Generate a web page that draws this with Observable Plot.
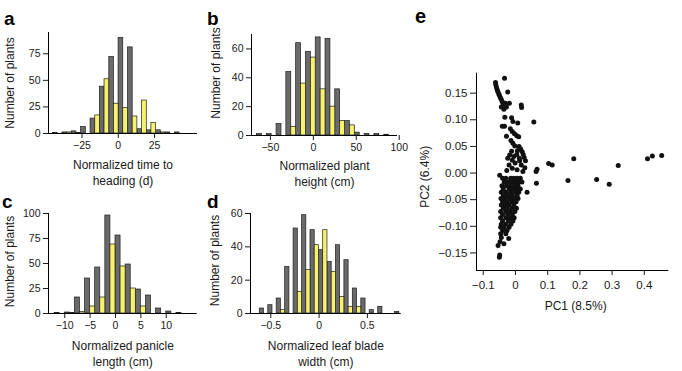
<!DOCTYPE html>
<html><head><meta charset="utf-8">
<script src="https://cdn.jsdelivr.net/npm/d3@7"></script>
<script src="https://cdn.jsdelivr.net/npm/@observablehq/plot@0.6"></script>
<style>
body{margin:0;background:#fff;}
#root{position:relative;width:682px;height:371px;overflow:hidden;font-family:"Liberation Sans",Arial,sans-serif;background:#fff;}
.panel{position:absolute;}
.letter{position:absolute;font-weight:bold;font-size:19px;line-height:1;color:#000;font-family:"Liberation Sans",Arial,sans-serif;}
</style></head><body><div id="root"></div>
<script>
// ---- Panel a: time to heading (d)
const aEdges = [-45, -38.5, -32.1, -25.6, -19.1, -12.7, -6.2, 0.2, 6.7, 13.2, 19.6, 26.1, 32.6, 39.0];
const aGrey = [0.5, 1, 2, 6, 14, 44, 72, 90, 81, 4, 3, 3, 1, 1];
const aYellow = [0, 1, 0.5, 0, 17, 51, 28, 24, 16, 31, 10, 1, 0, 0];
const aBinWidth = 6.45;
const aXTicks = [-25, 0, 25];
const aYTicks = [0, 25, 50, 75];

// ---- Panel b: plant height (cm)
const bEdges = [-65.6, -54.2, -42.8, -31.4, -20.0, -8.6, 2.8, 14.2, 25.5, 36.9, 48.3, 59.7, 71.1, 82.5];
const bGrey = [1, 1, 8, 44, 64, 58, 68, 67, 32, 10, 2, 1, 1, 0.5];
const bYellow = [0, 0, 0, 6, 36, 54, 32, 20, 10, 7, 0, 0, 0, 0];
const bBinWidth = 11.39;
const bXTicks = [-50, 0, 50, 100];
const bYTicks = [0, 20, 40, 60];

// ---- Panel c: panicle length (cm)
const cEdges = [-12, -10, -8, -6, -4, -2, 0, 2, 4, 6, 8, 10, 12];
const cGrey = [0.5, 1, 16, 35, 46, 98, 78, 49, 24, 18, 5, 2, 0.5];
const cYellow = [0, 0.5, 1.5, 7, 16, 69, 47, 25, 7, 0, 0, 0, 0];
const cBinWidth = 2;
const cXTicks = [-10, -5, 0, 5, 10];
const cYTicks = [0, 25, 50, 75, 100];

// ---- Panel d: leaf blade width (cm)
const dEdges = [-0.614, -0.526, -0.439, -0.351, -0.264, -0.176, -0.089, -0.001, 0.087, 0.174, 0.262, 0.349, 0.437, 0.524, 0.612, 0.699, 0.787];
const dGrey = [3, 5, 9, 28, 51, 59, 50, 38, 31, 41, 32, 15, 9, 2, 4, 0, 1];
const dYellow = [0, 0, 2, 0, 13, 26, 41, 50, 25, 10, 4, 4, 0, 0, 0, 0, 0];
const dBinWidth = 0.0875;
const dXTicks = [-0.5, 0, 0.5];
const dYTicks = [0, 20, 40, 60];

// ---- Panel e: PCA scores
const pc1Ticks = [-0.1, 0, 0.1, 0.2, 0.3, 0.4];
const pc2Ticks = [-0.15, -0.1, -0.05, 0, 0.05, 0.1, 0.15];
const pcScores = [
  [-0.034,0.178],[-0.062,0.170],[-0.061,0.166],[-0.059,0.161],[-0.057,0.157],[-0.055,0.153],[-0.052,0.149],[-0.050,0.146],
  [-0.047,0.142],[-0.044,0.138],[-0.024,0.152],[-0.041,0.134],[-0.038,0.129],[-0.031,0.131],[-0.019,0.131],[-0.044,0.124],
  [-0.028,0.124],[-0.036,0.120],[0.018,0.128],[0.019,0.123],[-0.033,0.105],[-0.012,0.104],[-0.008,0.097],[0.007,0.094],
  [0.057,0.096],[-0.041,0.088],[-0.034,0.088],[-0.016,0.083],[-0.010,0.078],[-0.003,0.074],[0.004,0.070],[-0.028,0.069],
  [0.010,0.068],[-0.014,0.061],[-0.008,0.056],[-0.002,0.051],[0.011,0.050],[0.016,0.045],[0.021,0.040],[-0.012,0.041],
  [0.006,0.042],[-0.018,0.034],[-0.005,0.031],[0.004,0.035],[0.024,0.035],[0.027,0.029],[0.031,0.023],[0.013,0.023],
  [-0.001,0.019],[-0.024,0.028],[-0.020,0.015],[0.018,0.015],[0.029,0.010],[-0.010,0.009],[0.005,0.006],[0.023,0.003],
  [-0.027,0.005],[0.012,0.028],[-0.010,0.024],[-0.049,-0.004],
  [0.067,0.007],[0.064,0.003],[0.065,-0.019],[0.103,0.018],[0.114,0.015],[0.181,0.027],[0.163,-0.014],[0.252,-0.012],
  [0.291,-0.021],[0.319,0.014],[0.410,0.027],[0.425,0.032],[0.454,0.033],[0.036,-0.036],
  [-0.040,-0.010],[-0.030,-0.010],[-0.015,-0.010],[-0.005,-0.010],[0.005,-0.010],[0.015,-0.010],
  [-0.035,-0.017],[-0.022,-0.017],[-0.010,-0.017],[0.000,-0.017],[0.010,-0.017],[0.020,-0.017],
  [-0.042,-0.024],[-0.028,-0.024],[-0.015,-0.024],[-0.003,-0.024],[0.008,-0.024],
  [-0.038,-0.030],[-0.020,-0.030],[-0.008,-0.030],[0.004,-0.030],[0.015,-0.030],
  [-0.044,-0.036],[-0.030,-0.036],[-0.015,-0.036],[0.000,-0.036],[0.010,-0.036],
  [-0.038,-0.042],[-0.024,-0.042],[-0.010,-0.042],[0.005,-0.042],
  [-0.045,-0.048],[-0.032,-0.048],[-0.018,-0.048],[-0.004,-0.048],[0.008,-0.048],
  [-0.040,-0.054],[-0.026,-0.054],[-0.012,-0.054],[0.002,-0.054],
  [-0.044,-0.060],[-0.032,-0.060],[-0.020,-0.060],[-0.005,-0.060],
  [-0.038,-0.066],[-0.025,-0.066],[-0.010,-0.066],[0.003,-0.066],
  [-0.046,-0.072],[-0.030,-0.072],[-0.016,-0.072],[-0.002,-0.072],
  [-0.040,-0.078],[-0.024,-0.078],[-0.010,-0.078],
  [-0.046,-0.084],[-0.030,-0.084],[-0.016,-0.084],[-0.004,-0.084],
  [-0.040,-0.090],[-0.022,-0.090],[-0.008,-0.090],
  [-0.044,-0.096],[-0.030,-0.096],[-0.014,-0.096],
  [-0.046,-0.102],[-0.036,-0.102],[-0.020,-0.102],
  [-0.040,-0.108],[-0.026,-0.108],[-0.046,-0.114],[-0.030,-0.114],
  [-0.044,-0.121],[-0.021,-0.123],[-0.048,-0.129],[-0.036,-0.133],[-0.054,-0.136],[-0.049,-0.154],[-0.050,-0.158]
];

const GREY = "#6a6a6a", YELLOW = "#f6f26e", EDGE = "#1e1e1e";
const FONT = "Liberation Sans, Arial, sans-serif";
const root = document.getElementById("root");
const minus = s => s.replace("-", "\u2212");
const fmtPlain = d => minus(String(d));
const fmt2 = d => minus(Math.abs(d) < 1e-9 ? "0.00" : d.toFixed(2));

function place(node, left, top) {
  const div = document.createElement("div");
  div.className = "panel";
  div.style.left = left + "px";
  div.style.top = top + "px";
  div.appendChild(node);
  root.appendChild(div);
}
function letter(t, left, top, size) {
  const div = document.createElement("div");
  div.className = "letter";
  div.textContent = t;
  div.style.left = left + "px";
  div.style.top = top + "px";
  if (size) div.style.fontSize = size + "px";
  root.appendChild(div);
}

function hist(cfg) {
  const half = (edges, counts, w, off) =>
    edges.map((e, i) => ({x1: e + off * w, x2: e + (off + 0.5) * w, n: counts[i]}));
  const greyRows = half(cfg.edges, cfg.grey, cfg.w, 0);
  const yellowRows = half(cfg.edges, cfg.yellow, cfg.w, 0.5);
  return Plot.plot({
    width: cfg.W, height: cfg.H,
    marginLeft: cfg.mL, marginRight: cfg.mR, marginTop: cfg.mT, marginBottom: cfg.mB,
    x: {domain: cfg.xDomain},
    y: {domain: cfg.yDomain},
    style: {fontFamily: FONT, fontSize: "10.5px", color: "#1a1a1a", background: "transparent", overflow: "visible", maxWidth: "none"},
    marks: [
      Plot.rect(greyRows, {x1: "x1", x2: "x2", y1: 0, y2: "n", fill: GREY, stroke: EDGE, strokeWidth: 0.7}),
      Plot.rect(yellowRows, {x1: "x1", x2: "x2", y1: 0, y2: "n", fill: YELLOW, stroke: EDGE, strokeWidth: 0.7}),
      Plot.ruleY([0], {stroke: "#000", strokeWidth: 1.2}),
      Plot.ruleX([cfg.xDomain[0]], {stroke: "#000", strokeWidth: 1}),
      Plot.axisX({ticks: cfg.xTicks, tickFormat: fmtPlain, tickSize: 5, tickPadding: 3, label: null}),
      Plot.axisY({ticks: cfg.yTicks, tickFormat: fmtPlain, tickSize: 5, tickPadding: 3, label: null}),
      Plot.text(["Number of plants"], {text: d => d, frameAnchor: "left", textAnchor: "middle", rotate: -90, dx: cfg.yLabDx, dy: cfg.yLabDy, lineAnchor: "middle", fontSize: 12, fill: "#1a1a1a"}),
      Plot.text([cfg.xLabel], {text: d => d, frameAnchor: "bottom", textAnchor: "middle", dy: cfg.xLabDy, lineAnchor: "middle", lineHeight: 1.35, fontSize: 12, fill: "#1a1a1a"})
    ]
  });
}

place(hist({edges: aEdges, grey: aGrey, yellow: aYellow, w: aBinWidth, xTicks: aXTicks, yTicks: aYTicks,
  xDomain: [-48.1, 54.6], yDomain: [0, 95], W: 200, H: 200, mL: 48, mR: 3, mT: 32, mB: 67,
  yLabDx: -38, yLabDy: 0, xLabel: "Normalized time to\nheading (d)", xLabDy: 38}), 0, 0);

place(hist({edges: bEdges, grey: bGrey, yellow: bYellow, w: bBinWidth, xTicks: bXTicks, yTicks: bYTicks,
  xDomain: [-72, 98], yDomain: [0, 70], W: 205, H: 200, mL: 51, mR: 8, mT: 34, mB: 65,
  yLabDx: -35, yLabDy: -12, xLabel: "Normalized plant\nheight (cm)", xLabDy: 37}), 200, 0);

place(hist({edges: cEdges, grey: cGrey, yellow: cYellow, w: cBinWidth, xTicks: cXTicks, yTicks: cYTicks,
  xDomain: [-13.2, 16.1], yDomain: [0, 100], W: 200, H: 200, mL: 48, mR: 3.3, mT: 33, mB: 67,
  yLabDx: -38, yLabDy: -2, xLabel: "Normalized panicle\nlength (cm)", xLabDy: 39}), 0, 180);

place(hist({edges: dEdges, grey: dGrey, yellow: dYellow, w: dBinWidth, xTicks: dXTicks, yTicks: dYTicks,
  xDomain: [-0.71, 0.85], yDomain: [0, 60], W: 205, H: 191, mL: 50, mR: 4.3, mT: 33, mB: 58,
  yLabDx: -35, yLabDy: -3, xLabel: "Normalized leaf blade\nwidth (cm)", xLabDy: 39}), 200, 180);

// Panel e scatter
const pcaPlot = Plot.plot({
  width: 282, height: 330, marginLeft: 76, marginRight: 13.7, marginTop: 72.7, marginBottom: 60,
  x: {domain: [-0.121, 0.476]},
  y: {domain: [-0.183, 0.1875]},
  style: {fontFamily: FONT, fontSize: "11.5px", color: "#1a1a1a", background: "transparent", overflow: "visible", maxWidth: "none"},
  marks: [
    Plot.ruleX([-0.121], {stroke: "#000", strokeWidth: 1}),
    Plot.ruleY([-0.183], {stroke: "#000", strokeWidth: 1}),
    Plot.axisX({ticks: pc1Ticks, tickFormat: fmtPlain, tickSize: 5, tickPadding: 5, label: null}),
    Plot.axisY({ticks: pc2Ticks, tickFormat: fmt2, tickSize: 6, tickPadding: 3, label: null}),
    Plot.dot(pcScores, {x: d => d[0], y: d => d[1], r: 2.5, fill: "#111", stroke: null}),
    Plot.text(["PC1 (8.5%)"], {text: d => d, frameAnchor: "bottom", textAnchor: "middle", dx: 3, dy: 36, lineAnchor: "middle", fontSize: 12, fill: "#1a1a1a"}),
    Plot.text(["PC2 (6.4%)"], {text: d => d, frameAnchor: "left", textAnchor: "middle", rotate: -90, dx: -51, dy: 5, lineAnchor: "middle", fontSize: 12, fill: "#1a1a1a"})
  ]
});
place(pcaPlot, 400, 0);

letter("a", 4, 9);
letter("b", 207, 9);
letter("c", 2, 192);
letter("d", 207, 192);
letter("e", 415, 6, 20);
</script></body></html>
